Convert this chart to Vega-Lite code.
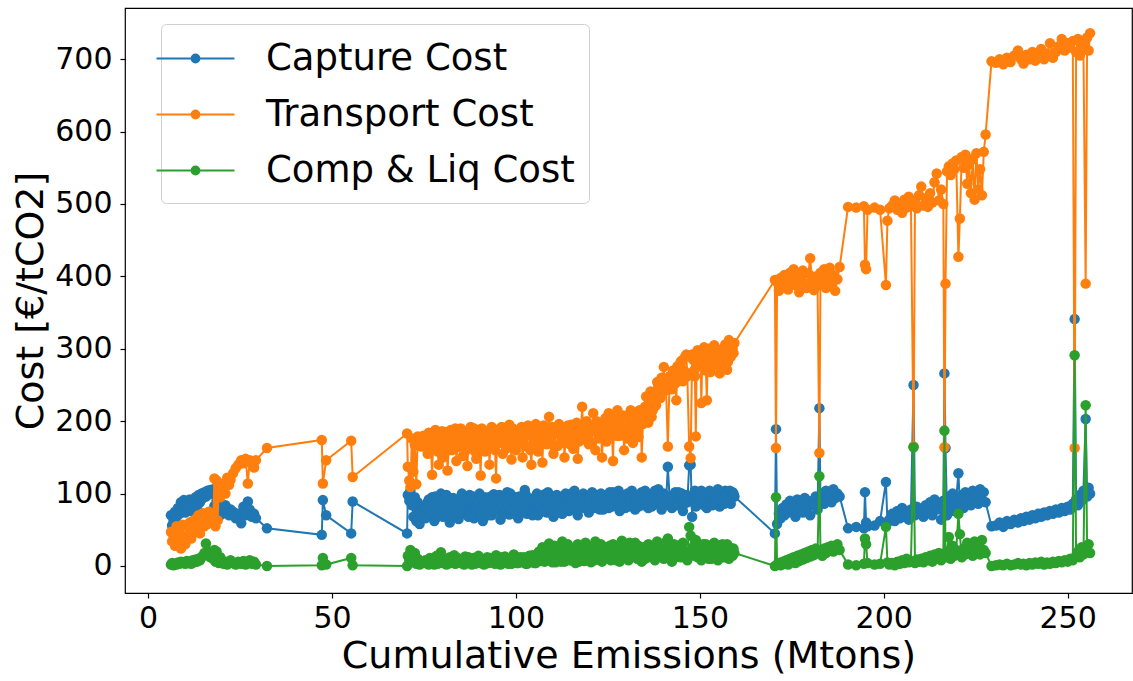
{
"$schema":"https://vega.github.io/schema/vega-lite/v6.json",
"width":1007,"height":585,
"autosize":{"type":"none"},
"padding":{"left":125,"top":8,"right":1,"bottom":88},
"background":"white",
"config":{"font":"DejaVu Sans","view":{"stroke":"black","strokeWidth":1.2},
"axis":{"grid":false,"domain":false,"tickColor":"black","tickSize":5,"tickWidth":1.2,"labelColor":"black","titleColor":"black","titleFontWeight":"normal","labelFontSize":30,"titleFontSize":38,"labelFont":"DejaVu Sans","titleFont":"DejaVu Sans"}},
"data":{"values":[
{"x":6.2,"a":70,"b":47,"c":2},{"x":6.5,"a":56,"b":34,"c":4},{"x":6.9,"a":62,"b":42,"c":1},{"x":7.3,"a":75,"b":28,"c":3},{"x":7.7,"a":68,"b":55,"c":2},{"x":8.1,"a":80,"b":36,"c":5},{"x":8.5,"a":72,"b":50,"c":3},{"x":8.9,"a":88,"b":24,"c":6},{"x":9.3,"a":78,"b":57,"c":4},{"x":9.7,"a":91,"b":38,"c":5},{"x":10.1,"a":74,"b":30,"c":3},{"x":10.5,"a":85,"b":56,"c":7},{"x":10.9,"a":80,"b":44,"c":4},{"x":11.3,"a":92,"b":60,"c":6},{"x":11.7,"a":76,"b":38,"c":3},{"x":12.1,"a":90,"b":62,"c":8},{"x":12.5,"a":84,"b":46,"c":5},{"x":12.9,"a":95,"b":65,"c":9},{"x":13.3,"a":82,"b":52,"c":6},{"x":13.7,"a":98,"b":70,"c":10},{"x":14.1,"a":88,"b":45,"c":8},{"x":14.5,"a":100,"b":62,"c":12},{"x":14.9,"a":94,"b":73,"c":14},{"x":15.3,"a":102,"b":55,"c":18},{"x":15.7,"a":96,"b":66,"c":31},{"x":16.1,"a":104,"b":58,"c":15},{"x":16.5,"a":99,"b":75,"c":20},{"x":16.9,"a":105,"b":62,"c":12},{"x":17.3,"a":100,"b":68,"c":16},{"x":17.7,"a":106,"b":60,"c":10},{"x":18.0,"a":83,"b":121,"c":22},{"x":18.3,"a":72,"b":55,"c":6},{"x":18.6,"a":90,"b":118,"c":20},{"x":18.9,"a":78,"b":63,"c":8},{"x":19.2,"a":85,"b":110,"c":4},{"x":19.6,"a":70,"b":95,"c":12},{"x":20.0,"a":76,"b":108,"c":5},
{"x":20.5,"a":73,"b":114,"c":3},{"x":21.0,"a":84,"b":100,"c":6},{"x":21.5,"a":80,"b":122,"c":2},{"x":22.0,"a":70,"b":112,"c":5},{"x":22.4,"a":78,"b":119,"c":8},{"x":23.1,"a":75,"b":128,"c":4},{"x":23.8,"a":66,"b":135,"c":2},{"x":24.5,"a":72,"b":140,"c":6},{"x":25.3,"a":59,"b":146,"c":3},{"x":25.9,"a":82,"b":142,"c":7},{"x":26.5,"a":70,"b":148,"c":2},{"x":27.1,"a":89,"b":114,"c":5},{"x":27.6,"a":78,"b":146,"c":8},{"x":28.2,"a":68,"b":141,"c":3},{"x":28.8,"a":72,"b":136,"c":6},{"x":29.3,"a":66,"b":146,"c":2},{"x":32.3,"a":52,"b":163,"c":0},
{"x":47.2,"a":43,"b":174,"c":1},{"x":47.5,"a":91,"b":114,"c":11},{"x":48.4,"a":70,"b":146,"c":2},{"x":55.2,"a":45,"b":173,"c":11},{"x":55.6,"a":89,"b":123,"c":1},{"x":70.4,"a":45,"b":183,"c":0},
{"x":70.6,"a":98,"b":137,"c":14},{"x":71.0,"a":90,"b":118,"c":8},{"x":71.3,"a":104,"b":109,"c":22},{"x":71.7,"a":84,"b":176,"c":15},{"x":72.1,"a":68,"b":130,"c":5},{"x":72.5,"a":95,"b":167,"c":18},{"x":72.9,"a":62,"b":113,"c":3},{"x":73.3,"a":88,"b":179,"c":10},{"x":73.8,"a":58,"b":178,"c":2},{"x":74.3,"a":75,"b":165,"c":6},{"x":74.8,"a":82,"b":180,"c":4},{"x":75.4,"a":66,"b":178,"c":8},{"x":76.0,"a":88,"b":155,"c":3},{"x":76.6,"a":70,"b":172,"c":11},{"x":77.2,"a":95,"b":126,"c":5},{"x":77.8,"a":62,"b":168,"c":2},{"x":78.4,"a":85,"b":182,"c":14},{"x":79.0,"a":74,"b":140,"c":6},{"x":79.6,"a":100,"b":178,"c":19},{"x":80.2,"a":68,"b":150,"c":4},{"x":80.8,"a":90,"b":185,"c":9},{"x":81.4,"a":78,"b":132,"c":3},{"x":82.0,"a":60,"b":172,"c":12},{"x":82.6,"a":92,"b":160,"c":6},{"x":83.2,"a":72,"b":186,"c":15},{"x":83.8,"a":86,"b":145,"c":4},{"x":84.4,"a":65,"b":178,"c":10},{"x":85.0,"a":95,"b":190,"c":7},{"x":85.6,"a":76,"b":152,"c":3},{"x":86.2,"a":84,"b":170,"c":13},{"x":86.8,"a":70,"b":138,"c":5},{"x":87.4,"a":98,"b":183,"c":9},{"x":88.0,"a":80,"b":165,"c":2},{"x":88.6,"a":66,"b":190,"c":11},{"x":89.2,"a":91,"b":148,"c":6},{"x":89.8,"a":74,"b":176,"c":14},{"x":90.4,"a":86,"b":125,"c":4},{"x":91.0,"a":62,"b":188,"c":8},{"x":91.6,"a":95,"b":158,"c":3},{"x":92.2,"a":79,"b":180,"c":12},{"x":92.8,"a":88,"b":140,"c":5},{"x":93.4,"a":70,"b":192,"c":10},{"x":94.0,"a":99,"b":168,"c":4},{"x":94.6,"a":76,"b":121,"c":15},{"x":95.2,"a":84,"b":176,"c":6},{"x":95.8,"a":64,"b":190,"c":2},{"x":96.4,"a":92,"b":155,"c":9},{"x":97.0,"a":80,"b":182,"c":13},{"x":97.6,"a":102,"b":168,"c":5},{"x":98.2,"a":71,"b":195,"c":8},{"x":98.8,"a":88,"b":147,"c":3},{"x":99.4,"a":76,"b":178,"c":16},{"x":100.0,"a":95,"b":160,"c":7},{"x":100.6,"a":66,"b":186,"c":4},{"x":101.2,"a":90,"b":172,"c":12},{"x":101.8,"a":82,"b":150,"c":6},{"x":102.4,"a":105,"b":190,"c":10},{"x":103.0,"a":72,"b":165,"c":3},{"x":103.6,"a":92,"b":182,"c":14},{"x":104.2,"a":78,"b":140,"c":5},{"x":104.8,"a":86,"b":176,"c":9},{"x":105.4,"a":96,"b":196,"c":4},{"x":106.0,"a":70,"b":158,"c":18},{"x":106.6,"a":88,"b":185,"c":8},{"x":107.2,"a":80,"b":143,"c":26},{"x":107.8,"a":99,"b":178,"c":6},{"x":108.4,"a":74,"b":168,"c":12},{"x":109.0,"a":92,"b":206,"c":31},{"x":109.6,"a":84,"b":172,"c":7},{"x":110.2,"a":68,"b":155,"c":15},{"x":110.8,"a":95,"b":188,"c":5},{"x":111.4,"a":78,"b":166,"c":22},{"x":112.0,"a":90,"b":192,"c":9},{"x":112.6,"a":72,"b":176,"c":34},{"x":113.2,"a":96,"b":150,"c":6},{"x":113.8,"a":86,"b":185,"c":14},{"x":114.4,"a":76,"b":170,"c":25},{"x":115.0,"a":100,"b":195,"c":8},{"x":115.6,"a":82,"b":162,"c":18},{"x":116.2,"a":92,"b":180,"c":4},{"x":116.8,"a":70,"b":148,"c":30},{"x":117.4,"a":88,"b":190,"c":10},{"x":118.0,"a":96,"b":220,"c":16},{"x":118.6,"a":80,"b":175,"c":7},{"x":119.2,"a":94,"b":200,"c":28},{"x":119.8,"a":74,"b":168,"c":12},{"x":120.4,"a":90,"b":186,"c":5},{"x":121.0,"a":100,"b":211,"c":22},{"x":121.6,"a":84,"b":160,"c":34},{"x":122.2,"a":92,"b":192,"c":9},{"x":122.8,"a":78,"b":178,"c":18},{"x":123.4,"a":98,"b":150,"c":6},{"x":124.0,"a":88,"b":196,"c":26},{"x":124.6,"a":96,"b":172,"c":12},{"x":125.2,"a":80,"b":211,"c":20},{"x":125.8,"a":94,"b":185,"c":8},{"x":126.4,"a":102,"b":145,"c":30},{"x":127.0,"a":86,"b":198,"c":14},{"x":127.6,"a":92,"b":215,"c":24},{"x":128.2,"a":76,"b":180,"c":6},{"x":128.8,"a":98,"b":192,"c":35},{"x":129.4,"a":88,"b":160,"c":12},{"x":130.0,"a":95,"b":205,"c":20},{"x":130.6,"a":82,"b":185,"c":8},{"x":131.2,"a":100,"b":215,"c":28},{"x":131.8,"a":90,"b":170,"c":15},{"x":132.4,"a":78,"b":196,"c":32},{"x":133.0,"a":96,"b":182,"c":10},{"x":133.6,"a":88,"b":215,"c":22},{"x":134.2,"a":102,"b":150,"c":6},{"x":134.8,"a":84,"b":205,"c":26},{"x":135.4,"a":94,"b":234,"c":14},{"x":136.0,"a":80,"b":198,"c":30},{"x":136.6,"a":98,"b":241,"c":12},{"x":137.2,"a":90,"b":215,"c":24},{"x":137.8,"a":104,"b":228,"c":8},{"x":138.4,"a":86,"b":254,"c":34},{"x":139.0,"a":96,"b":238,"c":16},{"x":139.6,"a":78,"b":260,"c":28},{"x":140.2,"a":100,"b":275,"c":10},{"x":140.8,"a":88,"b":248,"c":22},{"x":141.3,"a":137,"b":165,"c":38},{"x":141.8,"a":92,"b":262,"c":18},{"x":142.4,"a":80,"b":244,"c":6},{"x":143.0,"a":98,"b":266,"c":30},{"x":143.6,"a":86,"b":229,"c":14},{"x":144.2,"a":102,"b":272,"c":24},{"x":144.8,"a":90,"b":282,"c":12},{"x":145.4,"a":76,"b":255,"c":32},{"x":146.0,"a":96,"b":289,"c":20},{"x":146.6,"a":88,"b":262,"c":8},{"x":147.1,"a":139,"b":165,"c":54},{"x":147.5,"a":140,"b":149,"c":42},{"x":147.9,"a":68,"b":292,"c":16},{"x":148.4,"a":100,"b":270,"c":28},{"x":148.9,"a":82,"b":179,"c":36},{"x":149.4,"a":96,"b":298,"c":12},{"x":149.9,"a":90,"b":284,"c":22},{"x":150.4,"a":104,"b":225,"c":8},{"x":150.9,"a":86,"b":276,"c":30},{"x":151.4,"a":98,"b":292,"c":16},{"x":151.9,"a":80,"b":229,"c":24},{"x":152.4,"a":102,"b":300,"c":10},{"x":152.9,"a":92,"b":268,"c":26},{"x":153.4,"a":84,"b":286,"c":14},{"x":153.9,"a":100,"b":305,"c":32},{"x":154.4,"a":90,"b":278,"c":18},{"x":154.9,"a":106,"b":294,"c":8},{"x":155.4,"a":82,"b":266,"c":28},{"x":155.9,"a":98,"b":298,"c":12},{"x":156.4,"a":88,"b":284,"c":22},{"x":156.9,"a":104,"b":306,"c":16},{"x":157.4,"a":94,"b":271,"c":30},{"x":157.9,"a":100,"b":312,"c":10},{"x":158.4,"a":86,"b":289,"c":24},{"x":158.9,"a":102,"b":300,"c":14},{"x":159.4,"a":96,"b":308,"c":18},
{"x":75.7,"a":80,"b":170,"c":6},{"x":76.3,"a":92,"b":184,"c":2},{"x":76.9,"a":74,"b":162,"c":9},{"x":77.5,"a":86,"b":176,"c":4},{"x":78.1,"a":96,"b":188,"c":7},{"x":78.7,"a":68,"b":158,"c":3},{"x":79.3,"a":82,"b":172,"c":12},{"x":79.9,"a":90,"b":186,"c":5},{"x":80.5,"a":76,"b":166,"c":8},{"x":81.1,"a":98,"b":180,"c":2},{"x":81.7,"a":84,"b":160,"c":10},{"x":82.3,"a":70,"b":188,"c":4},{"x":82.9,"a":94,"b":174,"c":7},{"x":83.5,"a":80,"b":190,"c":3},{"x":84.1,"a":88,"b":164,"c":11},{"x":84.7,"a":74,"b":182,"c":5},{"x":85.3,"a":100,"b":170,"c":8},{"x":85.9,"a":82,"b":186,"c":2},{"x":86.5,"a":92,"b":160,"c":6},{"x":87.1,"a":68,"b":176,"c":12},{"x":87.7,"a":86,"b":192,"c":4},{"x":88.3,"a":96,"b":172,"c":9},{"x":88.9,"a":78,"b":158,"c":3},{"x":89.5,"a":88,"b":184,"c":7},{"x":90.1,"a":100,"b":170,"c":5},{"x":90.7,"a":74,"b":190,"c":10},{"x":91.3,"a":84,"b":176,"c":2},{"x":91.9,"a":92,"b":164,"c":8},{"x":92.5,"a":70,"b":186,"c":4},{"x":93.1,"a":96,"b":172,"c":11},{"x":93.7,"a":82,"b":182,"c":6},{"x":94.3,"a":90,"b":160,"c":3},{"x":94.9,"a":76,"b":188,"c":9},{"x":95.5,"a":98,"b":170,"c":5},{"x":96.1,"a":86,"b":192,"c":12},{"x":96.7,"a":72,"b":176,"c":4},{"x":97.3,"a":94,"b":162,"c":7},{"x":97.9,"a":84,"b":186,"c":3},{"x":98.5,"a":100,"b":172,"c":10},{"x":99.1,"a":78,"b":190,"c":6},{"x":99.7,"a":90,"b":166,"c":14},{"x":100.3,"a":82,"b":184,"c":4},{"x":100.9,"a":96,"b":174,"c":8},{"x":101.5,"a":74,"b":192,"c":5},{"x":102.1,"a":88,"b":168,"c":12},{"x":102.7,"a":98,"b":180,"c":3},{"x":103.3,"a":80,"b":194,"c":9},{"x":103.9,"a":92,"b":160,"c":6},{"x":104.5,"a":70,"b":186,"c":15},{"x":105.1,"a":86,"b":172,"c":4},{"x":105.7,"a":100,"b":190,"c":11},{"x":106.3,"a":82,"b":166,"c":20},{"x":106.9,"a":94,"b":182,"c":7},{"x":107.5,"a":76,"b":194,"c":13},{"x":108.1,"a":90,"b":170,"c":24},{"x":108.7,"a":102,"b":186,"c":9},{"x":109.3,"a":80,"b":176,"c":16},{"x":109.9,"a":96,"b":192,"c":5},{"x":110.5,"a":86,"b":164,"c":28},{"x":111.1,"a":98,"b":184,"c":10},{"x":111.7,"a":74,"b":196,"c":18},{"x":112.3,"a":92,"b":170,"c":6},{"x":112.9,"a":84,"b":188,"c":24},{"x":113.5,"a":100,"b":178,"c":12},{"x":114.1,"a":80,"b":194,"c":30},{"x":114.7,"a":94,"b":168,"c":8},{"x":115.3,"a":88,"b":186,"c":20},{"x":115.9,"a":104,"b":176,"c":14},{"x":116.5,"a":78,"b":198,"c":26},{"x":117.1,"a":96,"b":172,"c":6},{"x":117.7,"a":86,"b":188,"c":22},{"x":118.3,"a":100,"b":180,"c":12},{"x":118.9,"a":82,"b":196,"c":32},{"x":119.5,"a":94,"b":176,"c":9},{"x":120.1,"a":88,"b":192,"c":18},{"x":120.7,"a":102,"b":170,"c":26},{"x":121.3,"a":80,"b":188,"c":8},{"x":121.9,"a":96,"b":200,"c":20},{"x":122.5,"a":86,"b":176,"c":14},{"x":123.1,"a":100,"b":194,"c":30},{"x":123.7,"a":78,"b":182,"c":10},{"x":124.3,"a":92,"b":204,"c":22},{"x":124.9,"a":86,"b":178,"c":16},{"x":125.5,"a":102,"b":196,"c":28},{"x":126.1,"a":82,"b":184,"c":12},{"x":126.7,"a":96,"b":206,"c":24},{"x":127.3,"a":90,"b":180,"c":8},{"x":127.9,"a":104,"b":198,"c":20},{"x":128.5,"a":84,"b":186,"c":30},{"x":129.1,"a":94,"b":208,"c":14},{"x":129.7,"a":80,"b":190,"c":24},{"x":130.3,"a":100,"b":176,"c":10},{"x":130.9,"a":90,"b":200,"c":32},{"x":131.5,"a":104,"b":188,"c":18},{"x":132.1,"a":86,"b":210,"c":26},{"x":132.7,"a":96,"b":192,"c":12},{"x":133.3,"a":82,"b":178,"c":28},{"x":133.9,"a":100,"b":206,"c":16},{"x":134.5,"a":92,"b":196,"c":22},{"x":135.1,"a":104,"b":220,"c":10},{"x":135.7,"a":86,"b":212,"c":28},{"x":136.3,"a":96,"b":228,"c":18},{"x":136.9,"a":82,"b":206,"c":24},{"x":137.5,"a":100,"b":240,"c":12},{"x":138.1,"a":92,"b":222,"c":30},{"x":138.7,"a":106,"b":248,"c":20},{"x":139.3,"a":88,"b":232,"c":26},{"x":139.9,"a":98,"b":256,"c":14},{"x":140.5,"a":84,"b":242,"c":32},{"x":142.1,"a":96,"b":258,"c":20},{"x":142.7,"a":88,"b":270,"c":28},{"x":143.3,"a":102,"b":252,"c":12},{"x":143.9,"a":84,"b":276,"c":24},{"x":144.5,"a":94,"b":262,"c":16},{"x":145.1,"a":100,"b":284,"c":30},{"x":145.7,"a":86,"b":270,"c":20},{"x":146.3,"a":98,"b":292,"c":14},{"x":148.15,"a":92,"b":285,"c":22},{"x":148.65,"a":104,"b":262,"c":14},{"x":149.15,"a":86,"b":290,"c":30},{"x":149.65,"a":98,"b":276,"c":18},{"x":150.15,"a":90,"b":296,"c":26},{"x":150.65,"a":102,"b":280,"c":12},{"x":151.15,"a":84,"b":302,"c":22},{"x":151.65,"a":96,"b":270,"c":30},{"x":152.15,"a":88,"b":288,"c":16},{"x":152.65,"a":104,"b":296,"c":24},{"x":153.15,"a":92,"b":280,"c":10},{"x":153.65,"a":100,"b":292,"c":28},{"x":154.15,"a":86,"b":302,"c":20},{"x":154.65,"a":96,"b":286,"c":14},{"x":155.15,"a":104,"b":298,"c":26},{"x":155.65,"a":90,"b":278,"c":18},{"x":156.15,"a":100,"b":296,"c":30},{"x":156.65,"a":86,"b":290,"c":12},{"x":157.15,"a":98,"b":304,"c":22},{"x":157.65,"a":92,"b":282,"c":28},{"x":158.15,"a":104,"b":298,"c":16},{"x":158.65,"a":94,"b":306,"c":20},{"x":159.15,"a":100,"b":294,"c":24},
{"x":170.4,"a":45,"b":395,"c":0},{"x":170.7,"a":189,"b":163,"c":95},{"x":171.0,"a":58,"b":392,"c":2},{"x":171.5,"a":72,"b":380,"c":4},{"x":172.0,"a":66,"b":398,"c":1},{"x":172.5,"a":80,"b":386,"c":6},{"x":173.0,"a":70,"b":402,"c":3},{"x":173.5,"a":85,"b":390,"c":8},{"x":174.0,"a":74,"b":382,"c":2},{"x":174.5,"a":90,"b":405,"c":10},{"x":175.0,"a":78,"b":394,"c":5},{"x":175.5,"a":88,"b":410,"c":12},{"x":176.0,"a":68,"b":388,"c":4},{"x":176.5,"a":92,"b":400,"c":14},{"x":177.0,"a":80,"b":378,"c":7},{"x":177.5,"a":86,"b":396,"c":16},{"x":178.0,"a":74,"b":408,"c":9},{"x":178.5,"a":94,"b":390,"c":18},{"x":179.0,"a":82,"b":384,"c":11},{"x":179.5,"a":90,"b":404,"c":20},{"x":180.0,"a":70,"b":425,"c":13},{"x":180.5,"a":88,"b":392,"c":22},{"x":181.0,"a":84,"b":381,"c":15},{"x":181.5,"a":96,"b":400,"c":24},{"x":182.0,"a":78,"b":388,"c":18},{"x":182.5,"a":218,"b":156,"c":124},{"x":182.8,"a":90,"b":405,"c":20},{"x":183.3,"a":100,"b":395,"c":14},{"x":183.8,"a":86,"b":410,"c":24},{"x":184.3,"a":104,"b":384,"c":18},{"x":184.8,"a":92,"b":398,"c":26},{"x":185.3,"a":98,"b":412,"c":22},{"x":185.8,"a":88,"b":390,"c":28},{"x":186.3,"a":106,"b":402,"c":20},{"x":186.8,"a":94,"b":380,"c":25},{"x":187.4,"a":100,"b":396,"c":30},{"x":188.0,"a":96,"b":413,"c":22},
{"x":190.3,"a":52,"b":496,"c":2},{"x":192.5,"a":54,"b":495,"c":1},{"x":194.6,"a":52,"b":497,"c":3},{"x":194.9,"a":102,"b":416,"c":38},{"x":195.2,"a":60,"b":410,"c":30},{"x":195.6,"a":55,"b":492,"c":4},{"x":197.5,"a":56,"b":495,"c":2},{"x":199.0,"a":62,"b":492,"c":3},{"x":200.6,"a":116,"b":388,"c":54},{"x":201.0,"a":60,"b":477,"c":5},{"x":201.5,"a":64,"b":494,"c":2},{"x":202.3,"a":72,"b":498,"c":4},{"x":203.0,"a":62,"b":505,"c":1},{"x":203.7,"a":76,"b":492,"c":6},{"x":204.4,"a":66,"b":500,"c":3},{"x":205.0,"a":80,"b":488,"c":8},{"x":205.6,"a":68,"b":506,"c":4},{"x":206.2,"a":74,"b":495,"c":10},{"x":206.8,"a":64,"b":510,"c":5},{"x":207.4,"a":78,"b":498,"c":7},{"x":208.1,"a":250,"b":165,"c":164},{"x":208.5,"a":70,"b":505,"c":4},{"x":209.0,"a":82,"b":494,"c":9},{"x":209.6,"a":72,"b":512,"c":6},{"x":210.2,"a":76,"b":524,"c":10},{"x":210.8,"a":68,"b":498,"c":5},{"x":211.4,"a":84,"b":508,"c":12},{"x":212.0,"a":74,"b":496,"c":8},{"x":212.6,"a":88,"b":515,"c":14},{"x":213.2,"a":70,"b":502,"c":6},{"x":213.8,"a":92,"b":530,"c":16},{"x":214.4,"a":78,"b":542,"c":10},{"x":215.0,"a":86,"b":505,"c":18},{"x":215.6,"a":64,"b":520,"c":8},{"x":216.2,"a":90,"b":500,"c":14},{"x":216.5,"a":266,"b":164,"c":187},{"x":216.8,"a":163,"b":390,"c":12},{"x":217.2,"a":70,"b":545,"c":20},{"x":217.7,"a":96,"b":552,"c":40},{"x":218.2,"a":82,"b":540,"c":10},{"x":218.7,"a":100,"b":556,"c":28},{"x":219.2,"a":76,"b":548,"c":14},{"x":219.7,"a":92,"b":560,"c":22},{"x":220.3,"a":128,"b":427,"c":72},{"x":220.7,"a":86,"b":480,"c":44},{"x":221.2,"a":98,"b":565,"c":12},{"x":221.7,"a":80,"b":550,"c":24},{"x":222.2,"a":102,"b":568,"c":16},{"x":222.7,"a":88,"b":528,"c":32},{"x":223.2,"a":96,"b":555,"c":18},{"x":223.7,"a":84,"b":515,"c":28},{"x":224.2,"a":104,"b":562,"c":14},{"x":224.7,"a":90,"b":506,"c":34},{"x":225.2,"a":100,"b":570,"c":20},{"x":225.7,"a":86,"b":520,"c":30},{"x":226.2,"a":106,"b":548,"c":16},{"x":226.7,"a":92,"b":512,"c":36},{"x":227.2,"a":102,"b":572,"c":22},{"x":227.7,"a":88,"b":596,"c":18},
{"x":229.3,"a":55,"b":697,"c":0},{"x":230.5,"a":56,"b":695,"c":1},{"x":231.5,"a":60,"b":700,"c":2},{"x":232.5,"a":54,"b":693,"c":1},{"x":233.5,"a":62,"b":702,"c":3},{"x":234.5,"a":58,"b":696,"c":1},{"x":235.5,"a":64,"b":705,"c":2},{"x":236.5,"a":60,"b":712,"c":4},{"x":237.3,"a":66,"b":700,"c":2},{"x":238.0,"a":62,"b":694,"c":3},{"x":238.8,"a":68,"b":706,"c":1},{"x":239.6,"a":64,"b":700,"c":4},{"x":240.4,"a":70,"b":710,"c":2},{"x":241.2,"a":66,"b":698,"c":5},{"x":242.0,"a":72,"b":704,"c":3},{"x":242.8,"a":68,"b":714,"c":6},{"x":243.6,"a":74,"b":700,"c":2},{"x":244.4,"a":70,"b":708,"c":5},{"x":245.2,"a":76,"b":722,"c":3},{"x":246.0,"a":72,"b":702,"c":6},{"x":246.8,"a":78,"b":710,"c":4},{"x":247.6,"a":74,"b":718,"c":7},{"x":248.4,"a":80,"b":728,"c":5},{"x":249.2,"a":76,"b":712,"c":8},{"x":250.0,"a":82,"b":722,"c":6},{"x":250.7,"a":78,"b":716,"c":10},{"x":251.4,"a":86,"b":725,"c":8},{"x":251.9,"a":341,"b":163,"c":291},{"x":252.3,"a":92,"b":710,"c":14},{"x":252.8,"a":84,"b":728,"c":20},{"x":253.3,"a":98,"b":705,"c":12},{"x":253.8,"a":90,"b":720,"c":26},{"x":254.3,"a":104,"b":715,"c":16},{"x":254.9,"a":203,"b":390,"c":222},{"x":255.3,"a":96,"b":730,"c":22},{"x":255.7,"a":108,"b":712,"c":30},{"x":256.1,"a":100,"b":736,"c":18}
]},
"transform":[{"fold":["a","b","c"],"as":["s","v"]}],
"encoding":{
"x":{"field":"x","type":"quantitative","scale":{"domain":[-6.3,267.5],"nice":false,"zero":false},"axis":{"values":[0,50,100,150,200,250],"title":"Cumulative Emissions (Mtons)","labelPadding":5,"titlePadding":4,"labelFlush":false}},
"y":{"field":"v","type":"quantitative","scale":{"domain":[-37.3,770.7],"nice":false,"zero":false},"axis":{"values":[0,100,200,300,400,500,600,700],"title":"Cost [€/tCO2]","labelPadding":8,"titlePadding":4,"labelFlush":false}},
"color":{"field":"s","type":"nominal","scale":{"domain":["a","b","c"],"range":["#1f77b4","#ff7f0e","#2ca02c"]},
"legend":{"orient":"none","legendX":36,"legendY":16,"title":null,"labelExpr":"datum.value=='a'?'Capture Cost':datum.value=='b'?'Transport Cost':'Comp & Liq Cost'","labelFontSize":37,"labelFont":"DejaVu Sans","labelColor":"black","labelLimit":600,"labelOffset":50,"symbolType":"M-2,0H2M-0.2,0A0.2,0.2 0 1,1 0.2,0A0.2,0.2 0 1,1 -0.2,0","symbolSize":1521,"symbolStrokeWidth":2,"rowPadding":17,"padding":14,"fillColor":"rgba(255,255,255,0.8)","strokeColor":"#d0d0d0","cornerRadius":5,
"encode":{"symbols":{"update":{"fill":{"scale":"color","field":"value"},"stroke":{"scale":"color","field":"value"},"opacity":{"value":1}}}}}}
},
"layer":[
{"transform":[{"filter":"datum.s=='a'"}],"mark":{"type":"line","strokeWidth":2,"point":{"filled":true,"size":110,"opacity":1}}},
{"transform":[{"filter":"datum.s=='b'"}],"mark":{"type":"line","strokeWidth":2,"point":{"filled":true,"size":110,"opacity":1}}},
{"transform":[{"filter":"datum.s=='c'"}],"mark":{"type":"line","strokeWidth":2,"point":{"filled":true,"size":110,"opacity":1}}}
]
}
